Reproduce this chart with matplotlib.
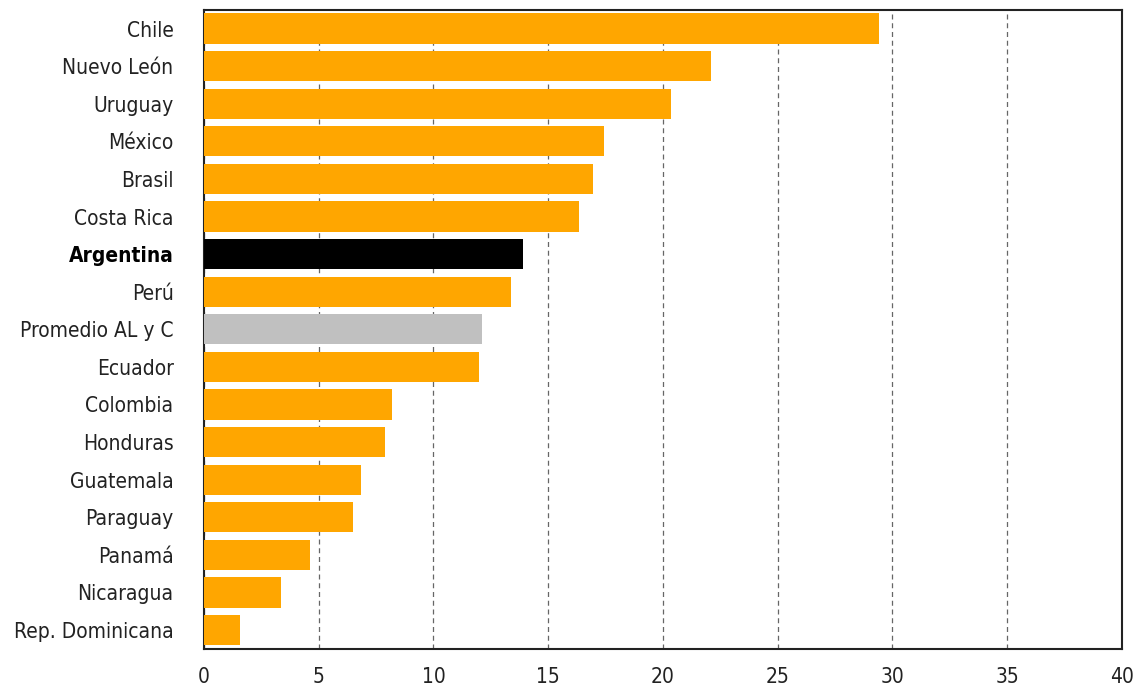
import matplotlib.pyplot as plt
import numpy as np

# Data (top to bottom)
paises = ["Chile", "Nuevo León", "Uruguay", "México", "Brasil", "Costa Rica",
          "Argentina", "Perú", "Promedio AL y C", "Ecuador", "Colombia",
          "Honduras", "Guatemala", "Paraguay", "Panamá", "Nicaragua",
          "Rep. Dominicana"]
valores = [29.4, 22.1, 20.35, 17.45, 16.95, 16.35, 13.9, 13.4, 12.1, 12.0,
           8.2, 7.9, 6.85, 6.5, 4.6, 3.35, 1.55]

colores = []
for p in paises:
    if p == "Argentina":
        colores.append("#000000")
    elif p.startswith("Promedio"):
        colores.append("#C0C0C0")
    else:
        colores.append("#FFA600")

plt.rcParams['font.family'] = ['DejaVu Sans']
plt.rcParams['font.stretch'] = 'condensed'

fig = plt.figure(figsize=(11.4, 6.94), dpi=100)
ax = fig.add_axes([0.179, 0.065, 0.805, 0.921])

y = np.arange(len(paises))
ax.barh(y, valores, height=0.8, color=colores, zorder=3)

ax.set_ylim(len(paises) - 0.5, -0.5)
ax.set_xlim(0, 40)
ax.set_xticks(np.arange(0, 41, 5))
ax.set_yticks(y)
ax.set_yticklabels(paises)
ax.tick_params(axis='both', length=0, labelsize=15, colors="#222222")
ax.tick_params(axis='x', pad=13)
ax.tick_params(axis='y', pad=22)
for lab in ax.get_yticklabels():
    if lab.get_text() == "Argentina":
        lab.set_fontweight("bold")
        lab.set_color("black")

ax.grid(axis='x', linestyle=(0, (4, 3)), color="#666666", linewidth=0.9, zorder=0)
for s in ax.spines.values():
    s.set_linewidth(1.5)
    s.set_color("#222222")

plt.savefig("out.png", dpi=100)
